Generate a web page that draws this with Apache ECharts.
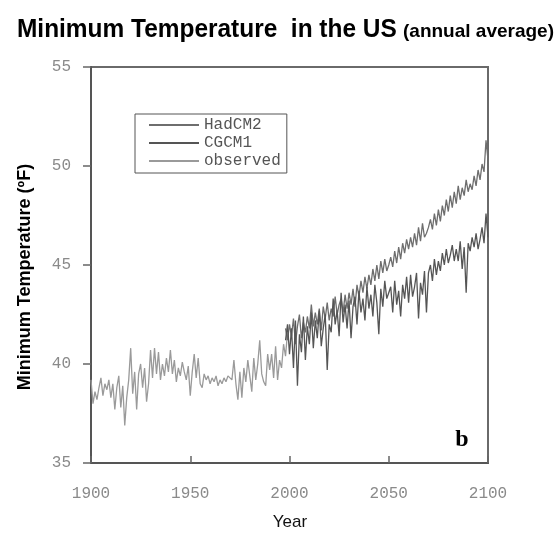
<!DOCTYPE html>
<html><head><meta charset="utf-8">
<script src="https://cdn.jsdelivr.net/npm/echarts@6/dist/echarts.min.js"></script>
<style>html,body{margin:0;padding:0;background:#fff}#c{width:560px;height:535px}</style>
</head><body><div id="c"></div>
<script>
var xTicks = [1900, 1950, 2000, 2050, 2100];
var yTicks = [35, 40, 45, 50, 55];
var seriesNames = ['HadCM2', 'CGCM1', 'observed'];
var observedStart = 1900;
var observed = [
39.2, 38.0, 38.6, 38.2, 38.8, 39.3, 38.4, 39.0, 38.7, 39.2,
38.3, 39.0, 37.7, 38.8, 39.4, 37.8, 38.9, 36.9, 38.3, 39.2,
40.8, 38.5, 39.6, 37.7, 39.5, 40.0, 38.8, 39.8, 38.1, 39.0,
40.7, 39.3, 40.8, 39.5, 40.6, 39.2, 40.0, 39.4, 40.3, 39.6,
40.7, 39.5, 40.2, 39.1, 39.8, 39.4, 40.1, 39.6, 39.2, 39.9,
38.4, 39.6, 40.5, 39.3, 40.3, 39.0, 38.8, 39.5, 39.2, 39.4,
39.0, 39.3, 39.1, 39.4, 38.9, 39.2, 39.0, 39.3, 39.1, 39.4,
39.3, 39.2, 40.2, 39.0, 38.2, 39.6, 38.3, 39.8, 39.1, 40.2,
39.4, 38.6, 40.3, 39.2, 40.0, 41.2, 39.5, 39.1, 38.9, 40.5,
39.7, 40.5, 39.3, 40.9, 39.2, 40.2, 39.8, 41.0, 40.4, 41.6
];
var modelStart = 1998;
var hadcm2 = [
41.8, 41.2, 42.0,
41.4, 42.3, 41.0, 41.9, 42.5, 41.3, 42.1, 41.6, 42.4, 41.8,
43.0, 41.9, 42.6, 42.0, 42.8, 41.7, 42.9, 42.3, 43.1, 42.2,
42.8, 42.4, 43.4, 42.5, 43.0, 43.3, 42.6, 43.5, 42.8, 43.6,
43.0, 43.8, 42.9, 44.0, 43.4, 44.2, 43.6, 44.4, 43.8, 44.5,
44.0, 44.8, 44.2, 45.0, 44.3, 45.2, 44.6, 45.3, 44.7, 45.0,
45.4, 44.9, 45.7, 45.1, 45.9, 45.3, 46.1, 45.6, 46.3, 45.8,
46.4, 45.9, 46.6, 46.0, 46.9, 46.2, 47.1, 46.4, 46.6, 46.9,
47.3, 46.8, 47.6, 47.0, 47.8, 47.2, 48.0, 47.5, 48.3, 47.7,
48.5, 47.9, 48.7, 48.1, 49.0, 48.3, 48.9, 48.5, 49.3, 48.7,
49.1, 48.8, 49.5, 49.0, 49.8, 49.3, 50.1, 49.7, 51.3, 50.3
];
var cgcm1 = [
41.2, 42.0, 40.5,
41.8, 39.8, 42.2, 38.9, 41.5, 40.6, 42.4, 40.2, 41.9, 41.0,
42.6, 40.8, 42.2, 41.3, 42.7, 40.9, 41.8, 42.5, 39.7, 42.0,
41.6, 43.3, 42.0, 42.7, 41.4, 43.6, 42.1, 43.0, 41.8, 43.2,
41.3, 42.9, 43.4, 42.0, 43.7, 42.6, 43.3, 42.2, 43.9, 42.8,
43.5, 42.4, 44.0, 43.1, 41.5, 43.8, 42.9, 44.2, 43.3, 43.6,
43.9, 42.6, 44.2, 43.0, 43.7, 42.4, 44.0, 43.3, 44.4, 43.1,
44.5, 43.4, 43.9, 44.6, 42.3, 44.1, 43.5, 44.7, 42.6, 44.6,
45.0, 44.2, 45.3, 44.5, 45.2, 44.7, 45.6, 45.0, 45.8, 45.1,
45.5, 46.0, 45.2, 45.8, 45.2, 46.2, 44.8, 45.9, 43.6, 46.1,
45.7, 46.4, 45.9, 46.6, 45.8, 46.3, 46.9, 46.1, 47.6, 46.4
];

function pairs(start, arr){ return arr.map(function(v,i){ return [start+i, v]; }); }

var chart = echarts.init(document.getElementById('c'), null, {renderer:'canvas'});
var sans = '"Liberation Sans Narrow", "Arial Narrow", "Liberation Sans", sans-serif';
var mono = '"Liberation Mono", "DejaVu Sans Mono", monospace';
chart.setOption({
  animation:false,
  backgroundColor:'#fff',
  grid:{left:91, right:72, top:67, bottom:72, show:true, borderColor:'#6a6a6a', borderWidth:2},
  legend:{
    left:135, top:114, orient:'vertical',
    data:seriesNames,
    borderColor:'#555', borderWidth:1, padding:[3,6,4,13], itemGap:2,
    itemWidth:50, itemHeight:14,
    itemStyle:{opacity:0},
    textStyle:{fontFamily:mono, fontSize:16, color:'#555'}
  },
  xAxis:{type:'value', min:xTicks[0], max:xTicks[xTicks.length-1], interval:50,
    axisLine:{show:true, lineStyle:{color:'#555', width:2}},
    axisTick:{show:true, inside:true, length:7, lineStyle:{color:'#666', width:1.5}},
    axisLabel:{margin:23, fontFamily:mono, fontSize:16, color:'#8a8a8a',
      formatter:function(v){ return String(v); }},
    splitLine:{show:false}},
  yAxis:{type:'value', min:yTicks[0], max:yTicks[yTicks.length-1], interval:5,
    axisLine:{show:true, lineStyle:{color:'#555', width:2}},
    axisTick:{show:true, inside:false, length:8, lineStyle:{color:'#666', width:1.5}},
    axisLabel:{margin:20, fontFamily:mono, fontSize:16, color:'#8a8a8a'},
    splitLine:{show:false}},
  series:[
    {name:'observed', type:'line', data:pairs(observedStart, observed), symbol:'none',
     lineStyle:{color:'#9a9a9a', width:1.3}, itemStyle:{color:'#9a9a9a'}, z:2},
    {name:'HadCM2', type:'line', data:pairs(modelStart, hadcm2), symbol:'none',
     lineStyle:{color:'#6e6e6e', width:1.3}, itemStyle:{color:'#6e6e6e'}, z:3},
    {name:'CGCM1', type:'line', data:pairs(modelStart, cgcm1), symbol:'none',
     lineStyle:{color:'#555', width:1.3}, itemStyle:{color:'#555'}, z:4}
  ],
  graphic:[
    {type:'text', x:17, y:43, scaleX:0.94, style:{
      text:'Minimum Temperature  in the US', fontFamily:sans, fontWeight:'bold', fontSize:26,
      fill:'#000', textAlign:'left', textVerticalAlign:'bottom'}},
    {type:'text', x:403, y:41, style:{
      text:'(annual average)', fontFamily:sans, fontWeight:'bold', fontSize:19,
      fill:'#000', textAlign:'left', textVerticalAlign:'bottom'}},
    {type:'text', x:25, y:277, rotation:Math.PI/2, style:{
      text:'Minimum Temperature (ºF)', fontFamily:sans, fontWeight:'bold', fontSize:18,
      fill:'#000', textAlign:'center', textVerticalAlign:'middle'}},
    {type:'text', x:290, y:522, style:{
      text:'Year', fontFamily:sans, fontSize:17, fill:'#111',
      textAlign:'center', textVerticalAlign:'middle'}},
    {type:'text', x:462, y:440, style:{
      text:'b', fontFamily:'"Liberation Serif", serif', fontWeight:'bold', fontSize:24,
      fill:'#000', textAlign:'center', textVerticalAlign:'middle'}}
  ]
});
</script></body></html>
